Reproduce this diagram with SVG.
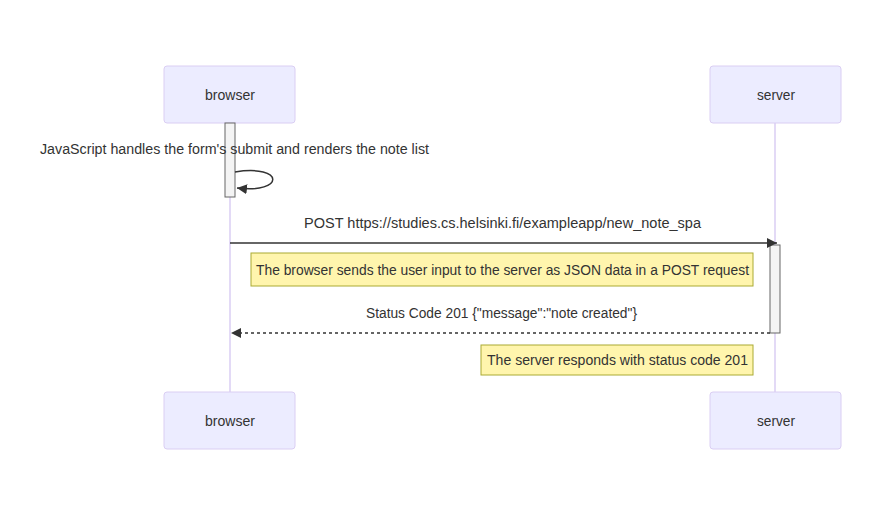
<svg xmlns="http://www.w3.org/2000/svg" width="885" height="517" viewBox="0 0 885 517">
<style>
.actor{fill:#ECECFF;stroke:hsl(259.6,59.8%,87.9%);stroke-width:1}
.actorText{font-family:"Liberation Sans",Arial,sans-serif;font-size:14px;fill:#333;text-anchor:middle;dominant-baseline:central}
.life{stroke:hsl(259.6,59.8%,87.9%);stroke-width:1.5}
.act{fill:#f4f4f4;stroke:#666;stroke-width:1}
.msg{stroke:#333;stroke-width:1.5;fill:none}
.dash{stroke-dasharray:3,3}
.msgText{font-family:"Liberation Sans",Arial,sans-serif;font-size:14px;fill:#333;text-anchor:middle}
.note{fill:#fff5ad;stroke:#aaaa33;stroke-width:1}
.noteText{font-family:"Liberation Sans",Arial,sans-serif;font-size:14px;fill:#333;text-anchor:middle;dominant-baseline:central}
</style>
<defs>
<marker id="arrowhead" viewBox="0 0 12 12" refX="10" refY="5" markerUnits="userSpaceOnUse" markerWidth="12" markerHeight="12" orient="auto">
<path d="M0,0 L10,5 L0,10 z" fill="#333"/>
</marker>
</defs>
<rect width="885" height="517" fill="#fff"/>
<g id="lifelines">
<line class="life" x1="230" y1="123" x2="230" y2="392"/>
<line class="life" x1="775" y1="123" x2="775" y2="392"/>
</g>
<g id="browser-top"><rect class="actor" x="164" y="66" width="131" height="57" rx="3"/><text class="actorText" x="230" y="95" textLength="50" lengthAdjust="spacingAndGlyphs">browser</text></g>
<g id="server-top"><rect class="actor" x="710" y="66" width="131" height="57" rx="3"/><text class="actorText" x="776" y="95" textLength="38" lengthAdjust="spacingAndGlyphs">server</text></g>
<g id="browser-bottom"><rect class="actor" x="164" y="392" width="131" height="57" rx="3"/><text class="actorText" x="230" y="421" textLength="50" lengthAdjust="spacingAndGlyphs">browser</text></g>
<g id="server-bottom"><rect class="actor" x="710" y="392" width="131" height="57" rx="3"/><text class="actorText" x="776" y="421" textLength="38" lengthAdjust="spacingAndGlyphs">server</text></g>
<g id="activations">
<rect class="act" x="225" y="123" width="10" height="74"/>
<rect class="act" x="770" y="245" width="10" height="88"/>
</g>
<g id="note1"><rect class="note" x="251" y="253" width="502" height="33"/><text class="noteText" x="502.5" y="270" textLength="493" lengthAdjust="spacingAndGlyphs">The browser sends the user input to the server as JSON data in a POST request</text></g>
<g id="note2"><rect class="note" x="481" y="345" width="272" height="30"/><text class="noteText" x="617.5" y="360" textLength="261" lengthAdjust="spacingAndGlyphs">The server responds with status code 201</text></g>
<g id="connectors">
<path class="msg" d="M235,172 C285,164 285,194 237,188" marker-end="url(#arrowhead)"/>
<text class="msgText" x="234.5" y="154" textLength="389" lengthAdjust="spacingAndGlyphs">JavaScript handles the form's submit and renders the note list</text>
<line class="msg" x1="230" y1="243" x2="777" y2="243" marker-end="url(#arrowhead)"/>
<text class="msgText" x="502.5" y="228" textLength="397" lengthAdjust="spacingAndGlyphs">POST https://studies.cs.helsinki.fi/exampleapp/new_note_spa</text>
<line class="msg dash" x1="770" y1="333" x2="231" y2="333" marker-end="url(#arrowhead)"/>
<text class="msgText" x="501.5" y="318" textLength="271" lengthAdjust="spacingAndGlyphs">Status Code 201 {"message":"note created"}</text>
</g>
</svg>
